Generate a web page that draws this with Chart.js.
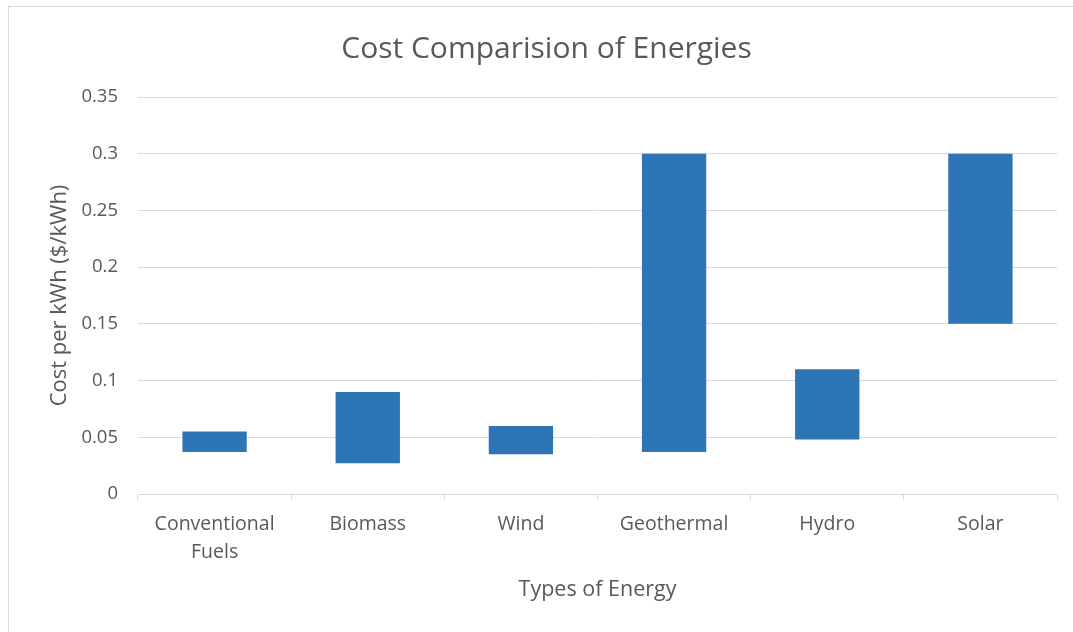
<!DOCTYPE html>
<html>
<head>
<meta charset="utf-8">
<script src="https://cdn.jsdelivr.net/npm/chart.js@4/dist/chart.umd.min.js"></script>
<style>
  html, body { margin: 0; padding: 0; background: #ffffff; }
  #wrap { position: relative; width: 1073px; height: 632px; overflow: hidden; background: #fff; }
  #frame { position: absolute; left: 8px; top: 6px; width: 1080px; height: 640px;
           border-left: 1px solid #d9d9d9; border-top: 1px solid #d9d9d9; box-sizing: border-box; }
  canvas { position: absolute; left: 0; top: 0; }
</style>
</head>
<body>
<div id="wrap">
  <div id="frame"></div>
  <canvas id="c" width="1073" height="632"></canvas>
</div>
<script>
// ---- data ----
const categories = [['Conventional', 'Fuels'], 'Biomass', 'Wind', 'Geothermal', 'Hydro', 'Solar'];
const lowCost  = [0.037, 0.027, 0.035, 0.037, 0.048, 0.15];
const highCost = [0.055, 0.09, 0.06, 0.30, 0.11, 0.30];
const yTickLabels = ['0', '0.05', '0.1', '0.15', '0.2', '0.25', '0.3', '0.35'];
const chartTitle = 'Cost Comparision of Energies';
const xTitle = 'Types of Energy';
const yTitle = 'Cost per kWh ($/kWh)';

const ranges = lowCost.map((lo, i) => [lo, highCost[i]]);

const FONT = "'Open Sans', 'Noto Sans', sans-serif";
const TXT = '#595959';
const GRID = '#d9d9d9';

new Chart(document.getElementById('c'), {
  type: 'bar',
  data: {
    labels: categories,
    datasets: [{
      label: 'Cost',
      data: ranges,
      backgroundColor: '#2e75b6',
      borderWidth: 0,
      categoryPercentage: 1,
      barPercentage: 0.42
    }]
  },
  options: {
    responsive: false,
    animation: false,
    layout: { padding: { left: 36, right: 16, top: 0, bottom: 0 } },
    plugins: {
      legend: { display: false },
      tooltip: { enabled: false },
      title: {
        display: true,
        text: chartTitle,
        color: TXT,
        font: { family: FONT, size: 30, weight: 'normal', lineHeight: 1.2 },
        padding: { top: 31, bottom: 30 }
      }
    },
    scales: {
      x: {
        grid: { display: true, drawOnChartArea: false, drawTicks: true, tickLength: 6, color: GRID, offset: true },
        border: { display: true, color: GRID },
        ticks: { color: TXT, font: { family: FONT, size: 19.5, lineHeight: 1.4 }, padding: 11, maxRotation: 0, autoSkip: false },
        title: { display: true, text: xTitle, color: TXT, font: { family: FONT, size: 21.5, lineHeight: 1.2 }, padding: { top: 0, bottom: 29 } },
        afterFit: (s) => { s.height = 138; }
      },
      y: {
        min: 0, max: 0.35,
        ticks: {
          stepSize: 0.05, color: TXT, padding: 20,
          font: { family: FONT, size: 18.5 },
          callback: (v, i) => yTickLabels[i]
        },
        grid: { color: GRID, drawTicks: false },
        border: { display: false },
        title: { display: true, text: yTitle, color: TXT, font: { family: FONT, size: 22, lineHeight: 1.2 }, padding: { top: 11, bottom: 0 } },
        afterFit: (s) => { s.width = 102; }
      }
    }
  }
});
</script>
</body>
</html>
